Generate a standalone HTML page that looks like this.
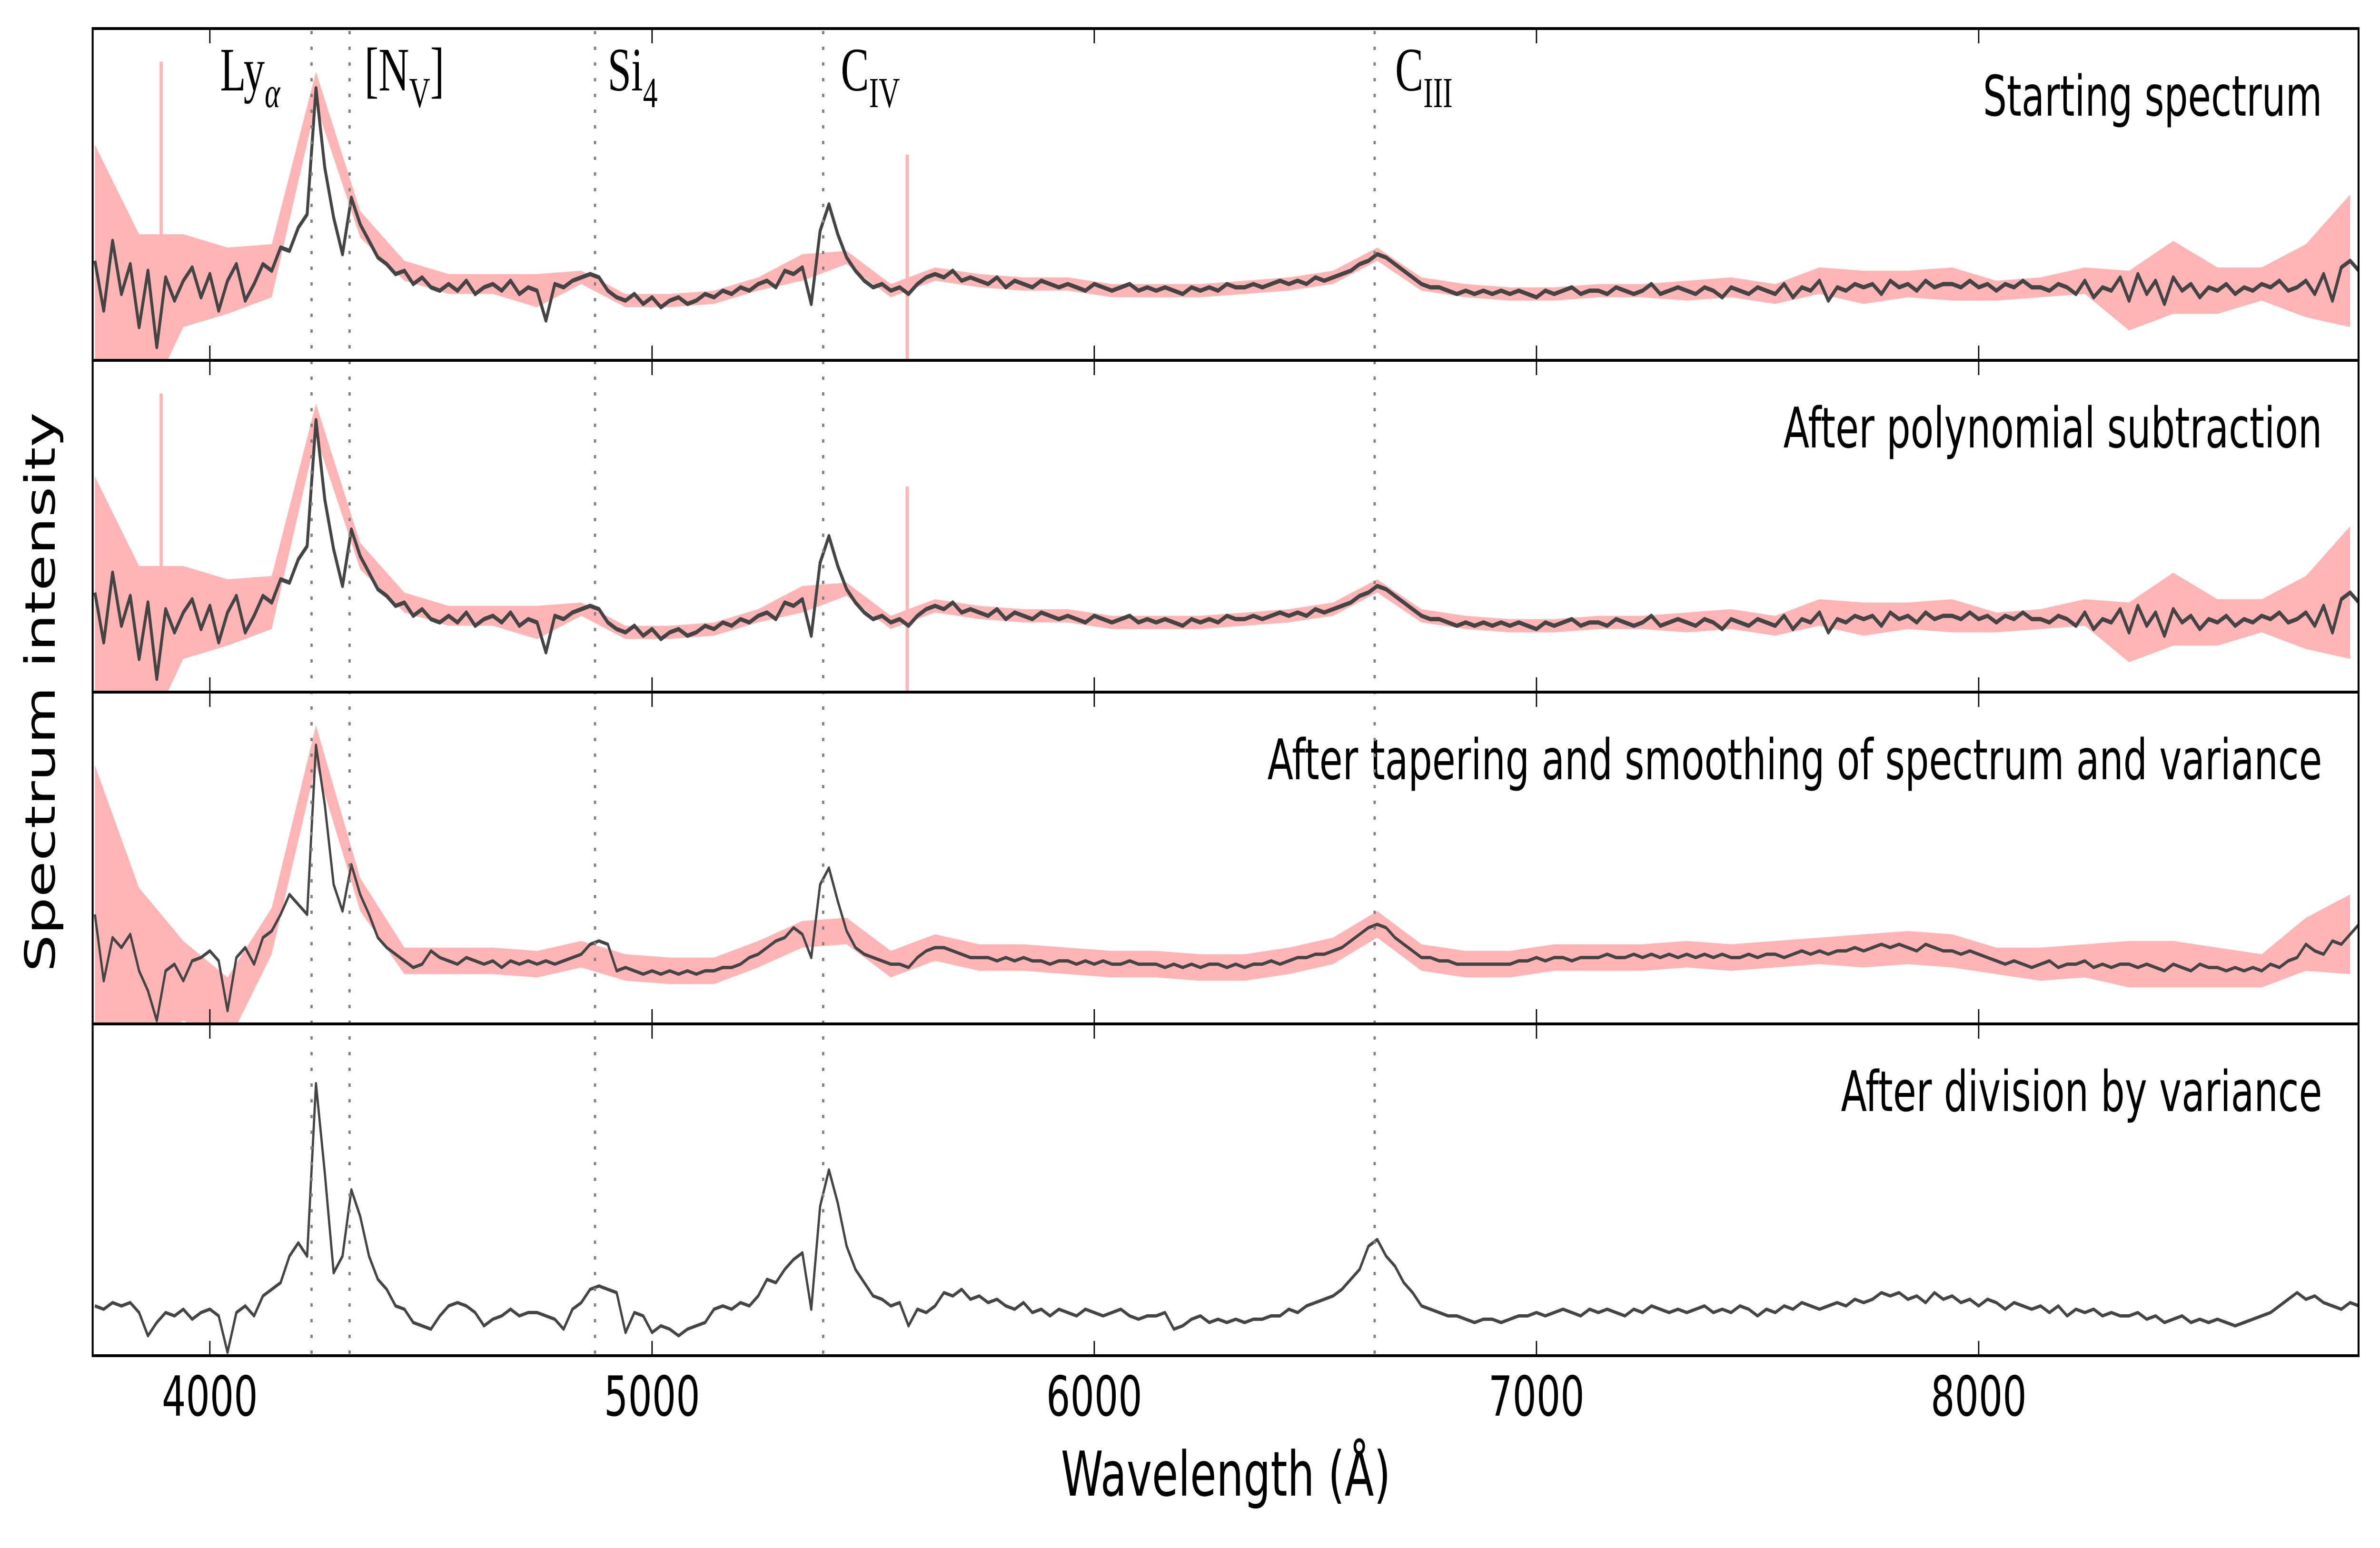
<!DOCTYPE html>
<html><head><meta charset="utf-8"><style>html,body{margin:0;padding:0;background:#fff;overflow:hidden;width:100vw;height:100vh}svg{display:block;position:absolute;left:0;top:0;width:100vw;height:100vh}</style></head>
<body>
<svg id="chart" xmlns="http://www.w3.org/2000/svg" viewBox="0 0 7320 3252" preserveAspectRatio="none">
  <text x="3770" y="3142" text-anchor="middle" font-family="DejaVu Sans, Liberation Sans, sans-serif" font-size="130" textLength="1014" lengthAdjust="spacingAndGlyphs">Wavelength (Å)</text>
  <text transform="translate(168,1454) rotate(-90)" text-anchor="middle" font-family="DejaVu Sans, Liberation Sans, sans-serif" font-size="128" textLength="1176" lengthAdjust="spacingAndGlyphs">Spectrum intensity</text>
  <g font-family="Liberation Serif, DejaVu Serif, serif" font-size="130">
    <text x="677" y="190">Ly<tspan font-size="90" font-style="italic" dy="35">α</tspan></text>
    <text x="1121" y="190">[N<tspan font-size="90" dy="35">V</tspan><tspan dy="-35">]</tspan></text>
    <text x="1869" y="190">Si<tspan font-size="90" dy="35">4</tspan></text>
    <text x="2586" y="190">C<tspan font-size="90" dy="35">IV</tspan></text>
    <text x="4291" y="190">C<tspan font-size="90" dy="35">III</tspan></text>
  </g>
</svg>
<script>
// ---------- data ----------
const lambdaStart = 3740, lambdaStep = 20;
const startSpectrum = [30,15,36,20,29,10,27,4,25,18, 24,28,19,26,15,24,29,18,23,29, 27,34,33,40,44,82,58,43,32,49, 41,36,31,29,26,27,23,25,22,21, 23,21,24,20,22,23,21,24,20,22, 21,12,23,22,24,25,26,25,21,19, 18,20,17,19,16,18,19,17,18,20, 19,21,20,22,21,23,24,22,27,26, 28,17,39,47,38,31,27,24,22,23, 21,22,20,23,25,26,25,27,24,25, 24,23,25,22,24,23,22,24,23,22, 23,22,21,23,22,21,22,23,21,22, 21,22,21,20,22,21,22,21,23,22, 22,23,22,23,24,23,24,23,25,24, 25,26,27,29,30,32,31,29,27,25, 23,22,22,21,20,21,20,21,20,21, 20,21,20,19,21,20,21,22,20,21, 21,20,22,21,20,21,23,20,21,22, 21,20,22,21,19,22,21,20,22,21, 20,23,19,22,21,24,18,22,21,23, 22,23,20,24,22,23,21,24,22,23, 23,22,24,22,23,21,23,22,24,22, 22,21,23,22,20,24,19,22,21,25, 18,26,20,24,17,25,21,23,19,22, 21,23,20,22,21,23,22,24,21,22, 24,20,26,18,28,30,27];
const polySpectrum = [30,15,36,20,29,10,27,4,25,18, 24,28,19,26,15,24,29,18,23,29, 27,34,33,40,44,82,58,43,32,49, 41,36,31,29,26,27,23,25,22,21, 23,21,24,20,22,23,21,24,20,22, 21,12,23,22,24,25,26,25,21,19, 18,20,17,19,16,18,19,17,18,20, 19,21,20,22,21,23,24,22,27,26, 28,17,39,47,38,31,27,24,22,23, 21,22,20,23,25,26,25,27,24,25, 24,23,25,22,24,23,22,24,23,22, 23,22,21,23,22,21,22,23,21,22, 21,22,21,20,22,21,22,21,23,22, 22,23,22,23,24,23,24,23,25,24, 25,26,27,29,30,32,31,29,27,25, 23,22,22,21,20,21,20,21,20,21, 20,21,20,19,21,20,21,22,20,21, 21,20,22,21,20,21,23,20,21,22, 21,20,22,21,19,22,21,20,22,21, 20,23,19,22,21,24,18,22,21,23, 22,23,20,24,22,23,21,24,22,23, 23,22,24,22,23,21,23,22,24,22, 22,21,23,22,20,24,19,22,21,25, 18,26,20,24,17,25,21,23,19,22, 21,23,20,22,21,23,22,24,21,22, 24,20,26,18,28,30,27];
const smoothSpectrum = [33,13,26,23,27,16,10,1,16,18, 13,19,20,22,19,4,20,23,18,26, 28,33,39,36,33,84,66,42,34,48, 39,33,26,23,21,19,17,18,22,20, 19,18,20,19,18,19,17,19,18,19, 18,19,18,19,20,21,24,25,24,16, 17,16,15,16,15,16,15,16,15,16, 16,17,17,18,20,21,23,25,26,29, 27,20,42,47,37,28,23,21,20,19, 18,18,17,20,22,23,23,22,21,20, 20,20,19,20,19,20,19,19,18,19, 19,18,19,18,19,18,18,19,18,18, 18,17,18,17,18,17,18,18,17,18, 17,18,18,19,18,19,20,20,21,21, 22,23,25,27,29,30,29,26,24,22, 20,20,19,19,18,18,18,18,18,18, 18,19,19,20,19,20,20,19,20,20, 20,21,20,20,21,20,21,20,21,20, 21,20,21,20,21,20,20,21,20,21, 21,20,21,22,21,22,21,22,22,23, 22,23,24,23,24,23,22,24,23,22, 22,21,22,21,20,19,18,19,18,17, 18,19,17,18,18,19,17,18,17,18, 18,17,18,17,16,18,17,16,18,17, 17,16,17,16,17,16,18,17,19,20, 24,22,21,25,24,27,30];
const dividedSpectrum = [15,14,16,15,16,13,6,10,13,12, 14,11,13,14,12,1,13,15,12,18, 20,22,30,34,30,82,55,25,30,50, 42,30,23,20,15,14,10,9,8,12, 15,16,15,13,9,11,12,14,12,13, 13,12,11,8,14,16,20,21,20,19, 7,13,12,7,9,8,6,8,9,10, 14,15,14,16,15,18,23,22,26,29, 31,14,45,56,46,33,26,22,18,17, 15,16,9,14,13,15,19,18,20,17, 18,16,17,15,14,16,13,14,12,14, 13,12,14,13,12,13,14,12,11,12, 12,13,8,9,11,12,10,11,10,11, 10,11,11,12,12,14,13,15,16,17, 18,20,23,26,33,35,30,27,22,19, 15,14,13,12,12,11,10,11,11,10, 11,12,12,13,12,13,14,13,12,14, 13,14,13,12,14,13,15,14,13,14, 13,14,15,13,14,13,15,14,12,14, 13,15,14,16,15,14,15,16,15,17, 16,17,19,18,19,17,18,16,19,17, 18,16,17,15,17,16,14,16,15,14, 15,13,15,12,14,13,14,12,13,12, 12,13,11,12,10,11,12,10,11,10, 11,10,9,10,11,12,13,15,17,19, 17,18,16,15,14,16,15];
const bandStart = 3740, bandStep = 100;
const rawBand = [35,28,14,10,8,5,4,3,3,3, 5,2,2,2,2,2,4,2,2,2, 2,2,2,2,2,2,2,2,2,2, 2,2,2,2,2,2,3,3,3,4, 5,4,5,3,3,4,9,11,7,5, 11,20];
const smoothBand = [45,25,12,10,7,6,5,4,4,4, 4,4,4,4,4,4,4,4,4,4, 4,4,4,4,4,4,4,4,4,4, 4,4,4,4,4,4,4,4,4,4, 5,5,5,4,5,5,7,7,6,5, 8,12];
const skyLines = [3890, 5577];
const skyTop = [90, 62];
const lineWavelengths = [4230, 4316, 4871, 5387, 6634];
const tickValues = [4000, 5000, 6000, 7000, 8000];
const tickLabels = ["4000", "5000", "6000", "7000", "8000"];
const panelTitles = ["Starting spectrum", "After polynomial subtraction", "After tapering and smoothing of spectrum and variance", "After division by variance"];
const titleLengths = [1043, 1657, 3244, 1480];

// ---------- layout ----------
const NS = "http://www.w3.org/2000/svg";
const svg = document.getElementById("chart");
const L = 285, R = 7254, LMIN = 3735, LMAX = 8859;
const tops = [60, 757, 1454, 2151], PH = 697;
const xOf = l => L + (l - LMIN) / (LMAX - LMIN) * (R - L);
const yOf = (p, v) => tops[p] + PH - v / 100 * PH;
function mk(tag, attrs, parent) {
  const e = document.createElementNS(NS, tag);
  for (const k in attrs) e.setAttribute(k, attrs[k]);
  (parent || svg).appendChild(e);
  return e;
}

const defs = mk("defs", {});
const panels = [
  {name: "starting-spectrum", data: startSpectrum, band: rawBand, sky: true},
  {name: "polynomial-subtracted", data: polySpectrum, band: rawBand, sky: true},
  {name: "tapered-smoothed", data: smoothSpectrum, band: smoothBand, sky: false},
  {name: "variance-divided", data: dividedSpectrum, band: null, sky: false}
];

panels.forEach((P, p) => {
  const cp = mk("clipPath", {id: "clip" + p}, defs);
  mk("rect", {x: L, y: tops[p], width: R - L, height: PH}, cp);
  const g = mk("g", {"clip-path": "url(#clip" + p + ")"});
  
  
  if (P.band) {
    const up = [], lo = [];
    P.band.forEach((b, i) => {
      const l = bandStart + bandStep * i;
      const idx = Math.min(P.data.length - 1, Math.round((l - lambdaStart) / lambdaStep));
      up.push(xOf(l) + "," + yOf(p, P.data[idx] + b));
      lo.unshift(xOf(l) + "," + yOf(p, P.data[idx] - b));
    });
    const poly = mk("polygon", {points: up.concat(lo).join(" "), fill: "#ffb5b5", stroke: "none"}, g);
    
    
  }
  if (P.sky) {
    skyLines.forEach((l, i) => {
      const r = mk("rect", {x: xOf(l) - 5, y: yOf(p, skyTop[i]), width: 10, height: yOf(p, 0) - yOf(p, skyTop[i]), fill: "#ffb5b5"}, g);
      
      
    });
  }
  const pts = P.data.map((v, i) => xOf(lambdaStart + lambdaStep * i) + "," + yOf(p, v)).join(" ");
  const line = mk("polyline", {points: pts, fill: "none", stroke: "#444444", "stroke-width": p < 2 ? 9 : 7, "stroke-linejoin": "round"}, g);
  
  
  const t = mk("text", {x: 7142, y: tops[p] + 183, "text-anchor": "end", "font-family": "DejaVu Sans, Liberation Sans, sans-serif", "font-size": 118, textLength: titleLengths[p], lengthAdjust: "spacingAndGlyphs"});
  t.textContent = panelTitles[p];
  
  
  tickValues.forEach(v => {
    const x = xOf(v);
    const a = mk("line", {x1: x, x2: x, y1: tops[p], y2: tops[p] + 31, stroke: "#000", "stroke-width": 4});
    
    
    const b = mk("line", {x1: x, x2: x, y1: tops[p] + PH, y2: tops[p] + PH - 31, stroke: "#000", "stroke-width": 4});
    
    
  });
});

lineWavelengths.forEach(l => {
  const d = mk("line", {x1: xOf(l), x2: xOf(l), y1: tops[0] + 5, y2: tops[3] + PH, stroke: "#808080", "stroke-width": 7, "stroke-dasharray": "7 26"});
  
  
});

panels.forEach((P, p) => {
  const f = mk("rect", {x: L, y: tops[p], width: R - L, height: PH, fill: "none", stroke: "#000", "stroke-width": 6});
  
  
});

tickValues.forEach((v, i) => {
  const t = mk("text", {x: xOf(v), y: 2974, "text-anchor": "middle", "font-family": "DejaVu Sans, Liberation Sans, sans-serif", "font-size": 116});
  t.textContent = tickLabels[i];
  
  
});
</script>
</body></html>
